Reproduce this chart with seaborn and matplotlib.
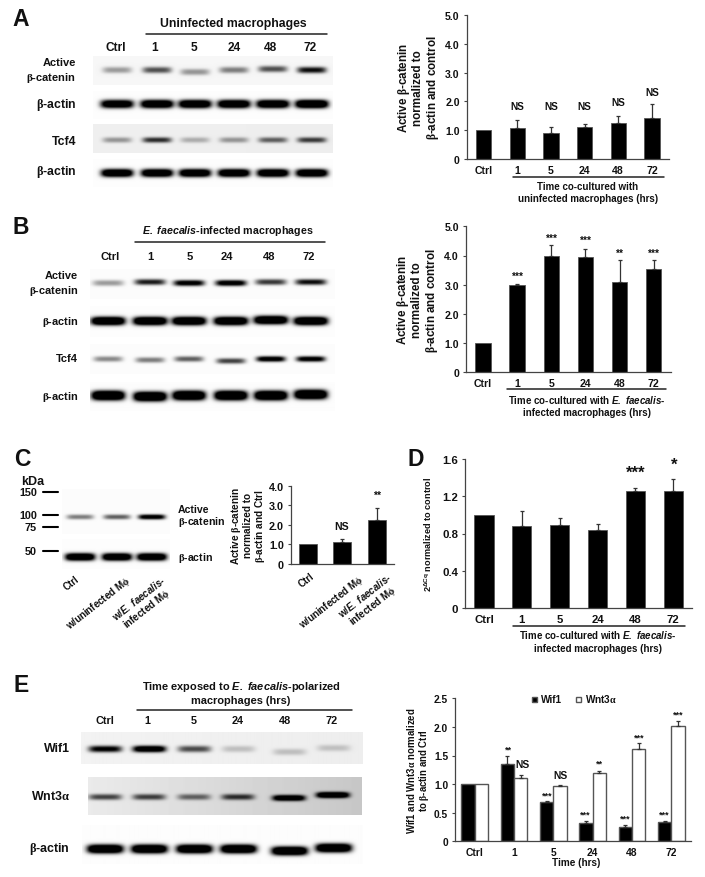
import numpy as np
import pandas as pd
import matplotlib
matplotlib.use("Agg")
import matplotlib.pyplot as plt
from matplotlib.lines import Line2D
import seaborn as sns

sns.set_theme(style="ticks")
plt.rcParams.update({
    "font.family": ["Liberation Sans", "DejaVu Sans"],
    "font.weight": "bold",
    "axes.labelweight": "bold",
    "mathtext.fontset": "custom",
    "mathtext.rm": "Liberation Serif",
    "mathtext.it": "Liberation Serif",
    "mathtext.bf": "Liberation Sans:bold",
    "mathtext.bfit": "Liberation Sans:italic:bold",
})

W, H = 705, 878
EDGE = "#555555"
BETA = r"$\beta$"
EF = r"$\mathbfit{E.\ faecalis}$"
PHI = r"M$\phi$"
ALPHA = r"$\alpha$"

# ---------- data ----------
time_cats = ["Ctrl", "1", "5", "24", "48", "72"]
a_vals = [1.0, 1.08, 0.90, 1.10, 1.26, 1.44]
a_errs = [0.0, 0.29, 0.20, 0.10, 0.24, 0.46]
a_sig = ["", "NS", "NS", "NS", "NS", "NS"]
b_vals = [1.0, 3.0, 4.0, 3.95, 3.08, 3.55]
b_errs = [0.0, 0.03, 0.35, 0.28, 0.75, 0.30]
b_sig = ["", "***", "***", "***", "**", "***"]
c_cats = ["Ctrl", f"w/uninfected {PHI}", f"w/{EF}-\ninfected {PHI}"]
c_vals = [1.0, 1.13, 2.25]
c_errs = [0.0, 0.17, 0.62]
c_sig = ["", "NS", "**"]
d_vals = [1.0, 0.88, 0.895, 0.84, 1.255, 1.255]
d_errs = [0.0, 0.16, 0.07, 0.06, 0.035, 0.125]
d_sig = ["", "", "", "", "***", "*"]
e_wif1 = [1.0, 1.36, 0.68, 0.32, 0.25, 0.33]
e_wif1_err = [0.0, 0.13, 0.02, 0.04, 0.04, 0.03]
e_wif1_sig = ["", "**", "***", "***", "***", "***"]
e_wnt3 = [1.0, 1.10, 0.965, 1.20, 1.62, 2.01]
e_wnt3_err = [0.0, 0.06, 0.015, 0.03, 0.09, 0.10]
e_wnt3_sig = ["", "NS", "NS", "**", "***", "***"]

# band strengths of the blots, lane by lane
blot_a_cat = [0.30, 0.55, 0.32, 0.40, 0.55, 0.78]
blot_a_act1 = [1.2, 1.3, 1.3, 1.3, 1.3, 1.4]
blot_a_tcf = [0.30, 0.65, 0.22, 0.30, 0.48, 0.60]
blot_a_act2 = [1.3, 1.3, 1.3, 1.3, 1.3, 1.3]
blot_b_cat = [0.32, 0.75, 0.95, 1.0, 0.65, 0.80]
blot_b_act1 = [1.4, 1.4, 1.4, 1.4, 1.4, 1.4]
blot_b_tcf = [0.38, 0.42, 0.52, 0.62, 1.0, 0.95]
blot_b_act2 = [1.5, 1.5, 1.5, 1.5, 1.5, 1.5]
blot_c_cat = [0.42, 0.52, 1.0]
blot_c_act = [1.3, 1.3, 1.3]
blot_e_wif = [0.85, 1.1, 0.55, 0.16, 0.16, 0.15]
blot_e_wnt = [0.55, 0.55, 0.42, 0.58, 1.0, 1.1]
blot_e_act = [1.4, 1.4, 1.4, 1.4, 1.4, 1.4]

# ---------- layout helpers ----------
fig = plt.figure(figsize=(W / 100, H / 100), dpi=100, facecolor="white")


def px_axes(x0, ytop, x1, ybot, **kw):
    return fig.add_axes([x0 / W, 1 - ybot / H, (x1 - x0) / W, (ybot - ytop) / H], **kw)


ov = px_axes(0, 0, W, H, zorder=10)
ov.set_xlim(0, W)
ov.set_ylim(H, 0)
ov.axis("off")
ov.patch.set_alpha(0)


def T(x, y, s, size=7.6, ha="center", va="center", **kw):
    ov.text(x, y, s, fontsize=size, ha=ha, va=va, color="#111111", **kw)


def hline(x0, x1, y, lw=1.1, color="#222222"):
    ov.add_line(Line2D([x0, x1], [y, y], color=color, lw=lw))


def blot(x0, ytop, x1, ybot, lanes, strengths, yc, bw, thick, bg=(0.02, 0.02), tilt=None):
    nx, ny = int(x1 - x0) * 2, int(ybot - ytop) * 2
    xs = np.linspace(x0, x1, nx)[None, :]
    ys = np.linspace(ytop, ybot, ny)[:, None]
    img = np.tile(np.linspace(bg[0], bg[1], nx), (ny, 1))
    shifts = tilt if tilt is not None else [0] * len(lanes)
    for lx, s, dy in zip(lanes, strengths, shifts):
        across = np.exp(-np.abs((xs - lx) / (bw / 2)) ** 5)
        along = np.exp(-np.abs((ys - yc - dy) / thick) ** 2.4)
        img = img + s * 1.2 * across * along
    img = np.clip(img, 0, 1)
    ax = px_axes(x0, ytop, x1, ybot)
    ax.imshow(img, cmap="gray_r", vmin=0, vmax=1, aspect="auto", interpolation="bilinear")
    ax.axis("off")


def style(ax, ylim, yticks, yfmt, size):
    sns.despine(ax=ax)
    ax.set_ylim(*ylim)
    ax.set_yticks(yticks)
    ax.set_yticklabels(yfmt)
    for s in ("left", "bottom"):
        ax.spines[s].set_color("#444444")
        ax.spines[s].set_linewidth(0.9)
    ax.tick_params(axis="y", length=2.5, width=0.8, color="#444444", labelsize=size, pad=2.5, labelcolor="#111111")
    ax.tick_params(axis="x", length=0, labelsize=size, pad=4, labelcolor="#111111")
    ax.set_xlim(-0.5, len(ax.get_xticks()) - 0.5)


def bars(box, cats, vals, errs, ylim, yticks, yfmt, width=0.455, size=7.6):
    ax = px_axes(*box)
    sns.barplot(x=cats, y=vals, order=cats, color="black", saturation=1, width=width,
                errorbar=None, ax=ax, edgecolor=EDGE, linewidth=0.6)
    pos = np.arange(len(cats))
    mask = np.array(errs) > 0
    ax.errorbar(pos[mask], np.array(vals)[mask], yerr=[np.zeros(mask.sum()), np.array(errs)[mask]],
                fmt="none", ecolor="#333333", elinewidth=0.9, capsize=1.6, capthick=0.9)
    style(ax, ylim, yticks, yfmt, size)
    return ax


def ylab(ax, s, size, x=None, ls=1.15):
    ax.set_ylabel(s, fontsize=size, linespacing=ls, color="#111111", fontweight="bold")
    if x is not None:
        ax.yaxis.set_label_coords(x, 0.5)


def xlab(ax, s, xc, y, size=7.0, ls=1.3):
    ax.set_xlabel(s, fontsize=size, linespacing=ls, color="#111111", fontweight="bold")
    ax.xaxis.set_label_coords(xc, y)
    ax.xaxis.label.set_va("top")


# ---------- panel A ----------
T(21, 20, "A", 16.5)
T(233, 24, "Uninfected macrophages", 8.8)
hline(146, 327, 35)
for x, s in zip([116, 155, 194, 234, 271, 310], time_cats):
    T(x, 48, s, 8.6)
T(76, 63, "Active", 8.0, ha="right")
T(76, 78, f"{BETA}-catenin", 8.0, ha="right")
T(76, 105, f"{BETA}-actin", 8.8, ha="right")
T(76, 142, "Tcf4", 8.8, ha="right")
T(76, 172, f"{BETA}-actin", 8.8, ha="right")
lanes_a = [117, 157, 195, 234, 273, 312]
blot(93, 57, 333, 86, lanes_a, blot_a_cat, 71, 29, 3.2, (0.035, 0.035), [0, 0, 2, 0, -1, 0])
blot(93, 92, 333, 120, lanes_a, blot_a_act1, 105, 33, 4.2, (0.01, 0.01))
blot(93, 125, 333, 154, lanes_a, blot_a_tcf, 141, 29, 2.8, (0.06, 0.07))
blot(93, 160, 333, 188, lanes_a, blot_a_act2, 174, 32, 4.0, (0.01, 0.01))

yt5 = [0, 1, 2, 3, 4, 5]
yl5 = ["0", "1.0", "2.0", "3.0", "4.0", "5.0"]
axA = bars((466.7, 16, 668.7, 160), time_cats, a_vals, a_errs, (0, 5), yt5, yl5)
ylab(axA, f"Active {BETA}-catenin\nnormalized to\n{BETA}-actin and control", 8.4, -0.128, ls=1.04)
xlab(axA, "Time co-cultured with\nuninfected macrophages (hrs)", 0.6, -0.15)
hline(512.7, 664, 178.3)
for x, y, s in zip([517.3, 551, 584.7, 618.3, 652], [107, 107, 107, 103, 93], a_sig[1:]):
    T(x, y, s, 7.2)

# ---------- panel B ----------
T(21, 228, "B", 16.5)
T(228, 231, f"{EF}-infected macrophages", 7.7)
hline(135, 325, 243)
for x, s in zip([110, 150, 190, 227, 269, 309], time_cats):
    T(x, 257, s, 8.0)
T(78, 276, "Active", 7.9, ha="right")
T(78, 291, f"{BETA}-catenin", 7.9, ha="right")
T(78, 322, f"{BETA}-actin", 7.9, ha="right")
T(78, 359, "Tcf4", 8.0, ha="right")
T(78, 397, f"{BETA}-actin", 7.9, ha="right")
lanes_b = [108, 150, 189, 231, 271, 311]
blot(90, 270, 335, 300, lanes_b, blot_b_cat, 283, 31, 3.0, (0.012, 0.012), [1, 0, 1, 1, 0, 0])
blot(90, 307, 335, 338, lanes_b, blot_b_act1, 322, 34, 4.2, (0.01, 0.01), [0, 0, 0, 0, -1, 0])
blot(90, 345, 335, 375, lanes_b, blot_b_tcf, 360, 29, 2.8, (0.012, 0.012), [0, 1, 0, 2, 0, 0])
blot(90, 383, 335, 412, lanes_b, blot_b_act2, 397, 33, 4.6, (0.01, 0.01), [0, 1, 0, 0, 0, -1])

axB = bars((466, 227.3, 670.7, 373.3), time_cats, b_vals, b_errs, (0, 5), yt5, yl5)
ylab(axB, f"Active {BETA}-catenin\nnormalized to\n{BETA}-actin and control", 8.4, -0.128, ls=1.04)
xlab(axB, f"Time co-cultured with {EF}-\ninfected macrophages (hrs)", 0.59, -0.14)
hline(507, 666, 390)
for x, y, s in zip([518.3, 551.7, 585.7, 619.7, 653.7], [277, 239, 241, 254, 254], b_sig[1:]):
    T(x, y, s, 7.2)

# ---------- panel C ----------
T(22, 460, "C", 16.5)
T(33, 482, "kDa", 9.0)
for y, s in zip([493, 516, 528, 552], ["150", "100", "75", "50"]):
    T(37, y, s, 7.8, ha="right")
    hline(43, 58, y, lw=1.5, color="black")
lanes_c = [80, 117, 152]
blot(62, 490, 170, 535, lanes_c, blot_c_cat, 518, 27, 2.5, (0.012, 0.012))
blot(62, 540, 170, 570, lanes_c, blot_c_act, 558, 30, 3.8, (0.01, 0.01))
T(178, 510, "Active", 7.6, ha="left")
T(178, 522, f"{BETA}-catenin", 7.6, ha="left")
T(178, 558, f"{BETA}-actin", 7.6, ha="left")
for x, y, s in zip([75, 125, 160], [574, 574, 574], c_cats):
    T(x, y, s, 7.0, ha="right", va="top", rotation=38, rotation_mode="anchor", linespacing=1.1, ma="center")

axC = bars((290.7, 486.7, 394, 565), c_cats, c_vals, c_errs, (0, 4),
           [0, 1, 2, 3, 4], ["0", "1.0", "2.0", "3.0", "4.0"], width=0.52, size=7.8)
axC.set_xticklabels([""] * 3)
ylab(axC, f"Active {BETA}-catenin\nnormalized to\n{BETA}-actin and Ctrl", 7.2, -0.225, ls=1.05)
for x, y, s in zip([310, 358, 386], [571, 573, 571], c_cats):
    T(x, y, s, 7.0, ha="right", va="top", rotation=38, rotation_mode="anchor", linespacing=1.1, ma="center")
T(342, 527, c_sig[1], 7.6)
T(377, 496, c_sig[2], 7.6)

# ---------- panel D ----------
T(416, 460, "D", 16.5)
axD = bars((465, 460, 692.3, 609), time_cats, d_vals, d_errs, (0, 1.6),
           [0, 0.4, 0.8, 1.2, 1.6], ["0", "0.4", "0.8", "1.2", "1.6"], width=0.51, size=8.2)
ylab(axD, r"2$^{\mathbf{\Delta Cq}}$ normalized to control", 6.6, -0.14)
xlab(axD, f"Time co-cultured with {EF}-\ninfected macrophages (hrs)", 0.585, -0.135)
hline(513, 685, 627)
T(636, 473, d_sig[4], 12)
T(674, 465, d_sig[5], 12)

# ---------- panel E ----------
T(21, 686, "E", 16.5)
T(241, 687, f"Time exposed to {EF}-polarized", 7.9)
T(241, 701, "macrophages (hrs)", 7.9)
hline(137, 352, 711)
for x, s in zip([105, 147, 194, 238, 285, 332], time_cats):
    T(x, 721, s, 7.8)
T(70, 749, "Wif1", 8.9, ha="right")
T(70, 797, f"Wnt3{ALPHA}", 8.9, ha="right")
T(70, 849, f"{BETA}-actin", 8.9, ha="right")
lanes_e = [105, 149, 194, 238, 289, 333]
blot(81, 733, 362, 765, lanes_e, blot_e_wif, 750, 33, 3.3, (0.05, 0.07), [0, 0, 0, 0, 3, -1])
blot(88, 778, 362, 816, lanes_e, blot_e_wnt, 798, 33, 3.0, (0.08, 0.22), [0, 0, 0, 0, 1, -2])
blot(82, 826, 362, 865, lanes_e, blot_e_act, 850, 36, 4.4, (0.01, 0.01), [0, 0, 0, 0, 2, -1])

groups = ["Wif1", f"Wnt3{ALPHA}"]
dfE = pd.DataFrame({
    "time": time_cats * 2,
    "value": e_wif1 + e_wnt3,
    "group": [groups[0]] * 6 + [groups[1]] * 6,
})
axE = px_axes(455, 699.3, 691, 842.3)
sns.barplot(data=dfE, x="time", y="value", hue="group", order=time_cats, hue_order=groups,
            palette=["black", "white"], saturation=1, width=0.68, gap=0, errorbar=None,
            edgecolor=EDGE, linewidth=1.0, ax=axE)
for cont, errs in zip(axE.containers, [e_wif1_err, e_wnt3_err]):
    cx = np.array([p.get_x() + p.get_width() / 2 for p in cont])
    cy = np.array([p.get_height() for p in cont])
    axE.errorbar(cx[1:], cy[1:], yerr=[np.zeros(5), np.array(errs)[1:]], fmt="none",
                 ecolor="#333333", elinewidth=0.9, capsize=1.4, capthick=0.9)
style(axE, (0, 2.5), [0, 0.5, 1, 1.5, 2, 2.5], ["0", "0.5", "1.0", "1.5", "2.0", "2.5"], 7.4)
axE.set_ylabel(f"Wif1 and Wnt3{ALPHA} normalized\nto {BETA}-actin and Ctrl", fontsize=6.9,
               linespacing=1.05, color="#111111", fontweight="bold")
axE.yaxis.set_label_coords(-0.10, 0.5)
axE.set_xlabel("Time (hrs)", fontsize=7.2, color="#111111", labelpad=1, fontweight="bold")
axE.xaxis.set_label_coords(0.515, -0.11)
leg = axE.legend(handles=[
    Line2D([], [], marker="s", ls="", mfc="black", mec=EDGE, ms=3.6, label=groups[0]),
    Line2D([], [], marker="s", ls="", mfc="white", mec=EDGE, ms=3.6, label=groups[1]),
], ncol=2, frameon=False, loc="center", bbox_to_anchor=(0.504, 1.0),
    prop={"family": "Liberation Sans", "weight": "bold", "size": 7.2},
    handlelength=0.7, handletextpad=0.4, columnspacing=1.2, labelcolor="#111111")
for x, y, s in zip([508, 547, 585, 625, 664], [750, 796, 815, 819, 815], e_wif1_sig[1:]):
    T(x, y, s, 6.4)
for x, y, s, z in zip([522, 561, 599, 639, 678], [765, 776, 764, 738, 715], e_wnt3_sig[1:], [7.4, 7.4, 6.4, 6.4, 6.4]):
    T(x, y, s, z)

fig.savefig("out.png", dpi=100)
